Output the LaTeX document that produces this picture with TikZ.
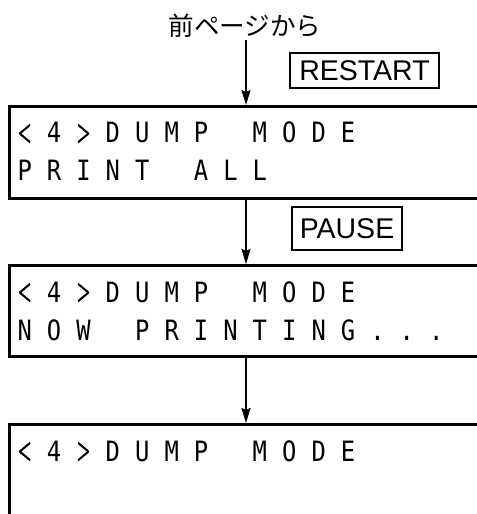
\documentclass[tikz,border=0pt]{standalone}
\usepackage{fontspec}
\usepackage{graphicx}
\usetikzlibrary{arrows.meta}
\newfontfamily\cjkfont{Noto Sans CJK JP}
\newfontfamily\lcdfont[FakeStretch=0.85]{DejaVu Sans Mono}
\newfontfamily\btnfont{Liberation Sans}
\newcommand\lcdthick[1]{\special{pdf:literal direct 2 Tr 0.9 w}#1\special{pdf:literal direct 0 Tr}}
\ExplSyntaxOn
\NewDocumentCommand\lcdchar{m}{
  \str_case:nnF {#1}
    {
      {<} {\raisebox{0.05em}{\scalebox{0.72}[1.3]{\lcdthick{$<$}}}}
      {>} {\raisebox{0.05em}{\scalebox{0.72}[1.3]{\lcdthick{$>$}}}}
    }
    {#1}
}
\NewDocumentCommand\lcdtext{m}{\str_map_inline:nn {#1} {\makebox[29.4bp][c]{\lcdchar{##1}}}}
\ExplSyntaxOff
\tikzset{
  lcdbox/.style={draw=black, line width=2.6bp, rectangle, inner sep=0pt, anchor=north west, minimum width=500bp},
  lcdline/.style={inner sep=0pt, anchor=base west, font=\lcdfont\fontsize{28bp}{28bp}\selectfont},
  btn/.style={draw=black, line width=1.8bp, inner sep=0pt, font=\btnfont\fontsize{28.5bp}{28.5bp}\selectfont},
  arr/.style={draw=black, line width=2bp, -{Stealth[length=15bp,width=9bp,inset=2bp]}},
  ttl/.style={inner sep=0pt, anchor=base, font=\cjkfont\fontsize{25.5bp}{25.5bp}\selectfont}
}
\begin{document}
\begin{tikzpicture}[x=1bp,y=-1bp]
\clip (0,0) rectangle (477,514);
\fill[white] (0,0) rectangle (477,514);
% title
\node[ttl] (title) at (245,35.5) {前ページから};
\coordinate (ax) at (246,40);
% displays
\node[lcdbox, minimum height=92bp] (b1) at (8,105) {};
\node[lcdbox, minimum height=91bp] (b2) at (8,264) {};
\node[lcdbox, minimum height=120bp] (b3) at (8,423) {};
% display texts
\node[lcdline] (t1a) at (9.8,143) {\lcdtext{<4>DUMP MODE}};
\node[lcdline] (t1b) at (9.8,181) {\lcdtext{PRINT ALL}};
\node[lcdline] (t2a) at (9.8,302) {\lcdtext{<4>DUMP MODE}};
\node[lcdline] (t2b) at (9.8,340) {\lcdtext{NOW PRINTING...}};
\node[lcdline] (t3a) at (9.8,461) {\lcdtext{<4>DUMP MODE}};
% keys
\node[btn, minimum width=149bp, minimum height=35bp] (restart) at (364.5,70.5) {RESTART};
\node[btn, minimum width=110bp, minimum height=43bp] (pause) at (347,228.5) {PAUSE};
% arrows
\draw[arr] (ax) -- (ax |- b1.north);
\draw[arr] (ax |- b1.south) -- (ax |- b2.north);
\draw[arr] (ax |- b2.south) -- (ax |- b3.north);
\end{tikzpicture}
\end{document}
